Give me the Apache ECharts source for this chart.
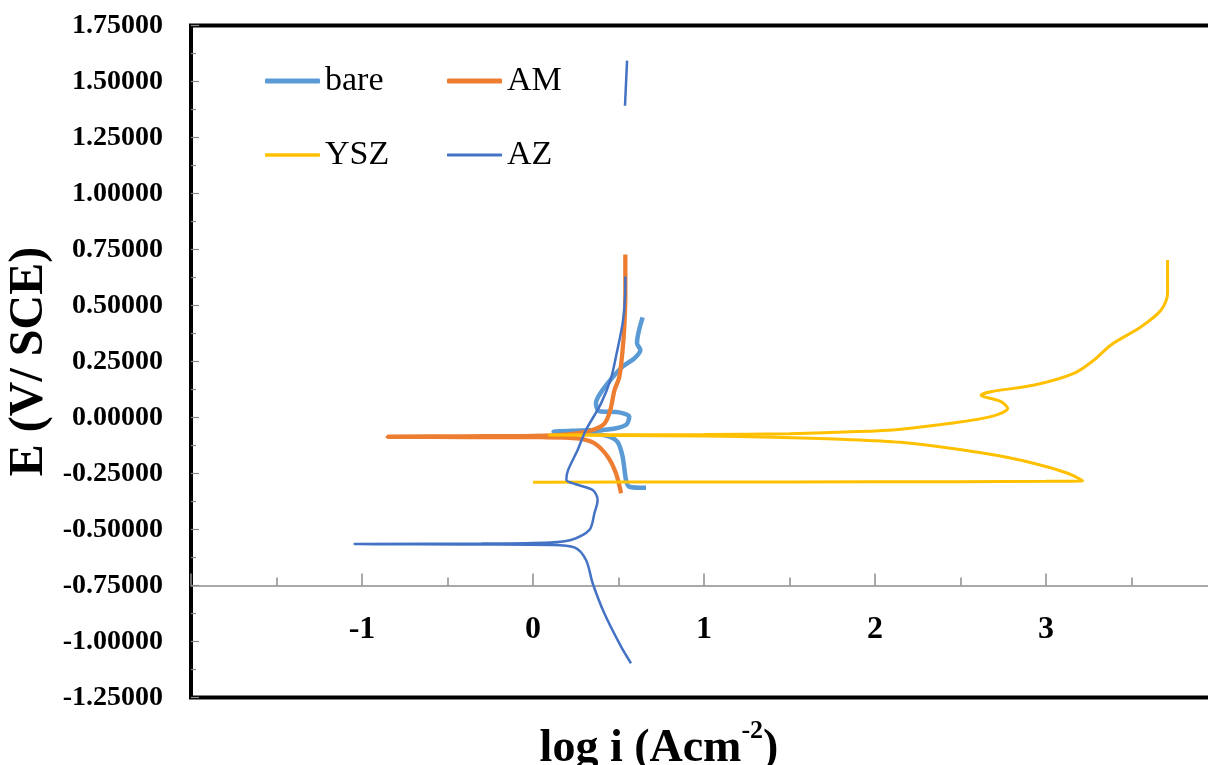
<!DOCTYPE html>
<html>
<head>
<meta charset="utf-8">
<title>Polarization curves</title>
<script src="https://cdn.jsdelivr.net/npm/echarts@6/dist/echarts.min.js"></script>
<style>
  html, body { margin: 0; padding: 0; background: #fff; }
  #chart { width: 1208px; height: 765px; }
</style>
</head>
<body>
<div id="chart"></div>
<script>
// Potentiodynamic polarization data: [log i (A cm^-2), E (V vs SCE)]
const seriesNames = ['bare', 'AM', 'YSZ', 'AZ'];

const bare = [
  [0.661, -0.314], [0.563, -0.309], [0.544, -0.279], [0.524, -0.175], [0.495, -0.110],
  [0.437, -0.083], [0.300, -0.068], [0.120, -0.063], [0.281, -0.058], [0.437, -0.054],
  [0.544, -0.033], [0.563, 0.004], [0.495, 0.024], [0.388, 0.028], [0.368, 0.063],
  [0.382, 0.093], [0.437, 0.153], [0.524, 0.227], [0.593, 0.264], [0.628, 0.301],
  [0.608, 0.331], [0.641, 0.447]
];

const AM = [
  [0.515, -0.338], [0.485, -0.249], [0.437, -0.175], [0.359, -0.115], [0.261, -0.093],
  [0.050, -0.088], [-0.400, -0.087], [-0.850, -0.086], [-0.400, -0.084], [0.000, -0.082],
  [0.203, -0.075], [0.339, -0.058], [0.417, -0.028], [0.452, 0.033], [0.476, 0.120],
  [0.505, 0.182], [0.524, 0.301], [0.535, 0.420], [0.540, 0.550], [0.540, 0.728]
];

const YSZ = [
  [0.000, -0.289], [1.000, -0.288], [2.000, -0.287], [3.000, -0.285], [3.214, -0.282],
  [3.127, -0.249], [2.932, -0.205], [2.639, -0.160], [2.152, -0.111], [1.800, -0.097],
  [1.400, -0.088], [1.000, -0.083], [0.500, -0.080], [0.094, -0.078], [0.500, -0.077],
  [1.000, -0.076], [1.500, -0.072], [1.900, -0.063], [2.152, -0.052], [2.444, -0.026],
  [2.678, 0.004], [2.776, 0.041], [2.737, 0.071], [2.620, 0.100], [2.678, 0.115],
  [2.932, 0.145], [3.163, 0.197], [3.282, 0.257], [3.380, 0.324], [3.556, 0.405],
  [3.673, 0.480], [3.711, 0.554], [3.711, 0.703]
];

const AZ = [
  [0.573, -1.097], [0.515, -1.023], [0.417, -0.874], [0.349, -0.740], [0.310, -0.636],
  [0.242, -0.580], [0.100, -0.569], [-0.300, -0.567], [-1.045, -0.565], [-0.300, -0.563],
  [0.100, -0.558], [0.222, -0.547], [0.330, -0.502], [0.359, -0.428], [0.378, -0.368],
  [0.349, -0.324], [0.250, -0.298], [0.195, -0.278], [0.205, -0.235], [0.261, -0.145],
  [0.300, -0.071], [0.320, -0.041], [0.398, 0.063], [0.456, 0.175], [0.485, 0.271],
  [0.524, 0.420], [0.538, 0.530], [0.540, 0.629]
];

// separate short AZ segment recorded at high potential
const AZhigh = [[0.538, 1.392], [0.550, 1.593]];

const xTicks = { min: -2, max: 4, interval: 1 };
const yTicks = { min: -1.25, max: 1.75, interval: 0.25 };

const colors = { bare: '#5B9BD5', AM: '#ED7D31', YSZ: '#FFC000', AZ: '#4472C4' };
const widths = { bare: 4.5, AM: 4.3, YSZ: 3, AZ: 2.5 };
const serif = 'Liberation Serif';

const chart = echarts.init(document.getElementById('chart'), null, { renderer: 'canvas' });

function legendAt(name, left, top) {
  return {
    data: [{ name: name, icon: 'roundRect', itemStyle: { color: colors[name] } }],
    left: left, top: top,
    padding: 0,
    itemWidth: 55, itemHeight: widths[name] + 0.5,
    selectedMode: false,
    textStyle: { fontFamily: serif, fontSize: 34, color: '#000', lineHeight: 36 }
  };
}

function lineSeries(name, data, z) {
  return {
    name: name, type: 'line', data: data,
    xAxisIndex: 0, yAxisIndex: 0,
    showSymbol: false, symbol: 'none',
    smooth: 0.3,
    lineStyle: { color: colors[name], width: widths[name] },
    itemStyle: { color: colors[name] },
    z: z
  };
}

chart.setOption({
  backgroundColor: '#fff',
  animation: false,
  legend: [
    legendAt('bare', 265, 63),
    legendAt('AM', 447, 63),
    legendAt('YSZ', 265, 137),
    legendAt('AZ', 447, 137)
  ],
  grid: [
    { left: 191, top: 25.5, width: 1026, height: 672, show: true,
      outerBoundsMode: 'none', containLabel: false,
      borderColor: '#000', borderWidth: 4, backgroundColor: 'transparent' },
    // x axis sits on the E = -0.75 V line of the main plot
    { left: 191, top: 25.5, width: 1026, height: 560, show: false,
      outerBoundsMode: 'none', containLabel: false }
  ],
  xAxis: [
    { gridIndex: 0, type: 'value', min: xTicks.min, max: xTicks.max, interval: xTicks.interval,
      show: false },
    { gridIndex: 1, type: 'value', min: xTicks.min, max: xTicks.max, interval: xTicks.interval,
      position: 'bottom',
      name: '{a|log i (Acm}{s|-2}{a|)}',
      nameLocation: 'middle', nameGap: 133, nameMoveOverlap: false,
      nameTextStyle: {
        padding: [0, 90, 0, 0],
        rich: {
          a: { fontFamily: serif, fontWeight: 'bold', fontSize: 46, color: '#000', lineHeight: 54, verticalAlign: 'bottom' },
          s: { fontFamily: serif, fontWeight: 'bold', fontSize: 26, color: '#000', lineHeight: 30, verticalAlign: 'top' }
        }
      },
      axisLine: { show: true, onZero: false, lineStyle: { color: '#8c8c8c', width: 1.5 } },
      axisTick: { show: true, inside: true, length: 12, lineStyle: { color: '#8c8c8c', width: 1.5 } },
      minorTick: { show: true, splitNumber: 2, length: 8, lineStyle: { color: '#8c8c8c', width: 1.5 } },
      splitLine: { show: false },
      minorSplitLine: { show: false },
      axisLabel: {
        margin: 28, fontFamily: serif, fontWeight: 'bold', fontSize: 32, color: '#000', lineHeight: 32,
        formatter: v => (v <= xTicks.min || v >= xTicks.max) ? '' : String(v)
      }
    }
  ],
  yAxis: [
    { gridIndex: 0, type: 'value', min: yTicks.min, max: yTicks.max, interval: yTicks.interval,
      position: 'left',
      name: 'E (V/ SCE)', nameLocation: 'middle', nameGap: 137, nameRotate: 90, nameMoveOverlap: false,
      nameTextStyle: { fontFamily: serif, fontWeight: 'bold', fontSize: 48, color: '#000' },
      axisLine: { show: false, onZero: false },
      axisTick: { show: true, inside: true, length: 8, lineStyle: { color: '#8c8c8c', width: 1.2 } },
      minorTick: { show: true, splitNumber: 2, length: 5, lineStyle: { color: '#8c8c8c', width: 1.2 } },
      splitLine: { show: false },
      minorSplitLine: { show: false },
      axisLabel: {
        margin: 28, fontFamily: serif, fontWeight: 'bold', fontSize: 28, color: '#000',
        formatter: v => v.toFixed(5)
      }
    },
    { gridIndex: 1, type: 'value', min: 0, max: 1, show: false }
  ],
  series: [
    lineSeries('bare', bare, 2),
    lineSeries('AM', AM, 3),
    lineSeries('YSZ', YSZ, 4),
    lineSeries('AZ', AZ, 5),
    Object.assign(lineSeries('AZ', AZhigh, 5), { smooth: false })
  ]
});
</script>
</body>
</html>
